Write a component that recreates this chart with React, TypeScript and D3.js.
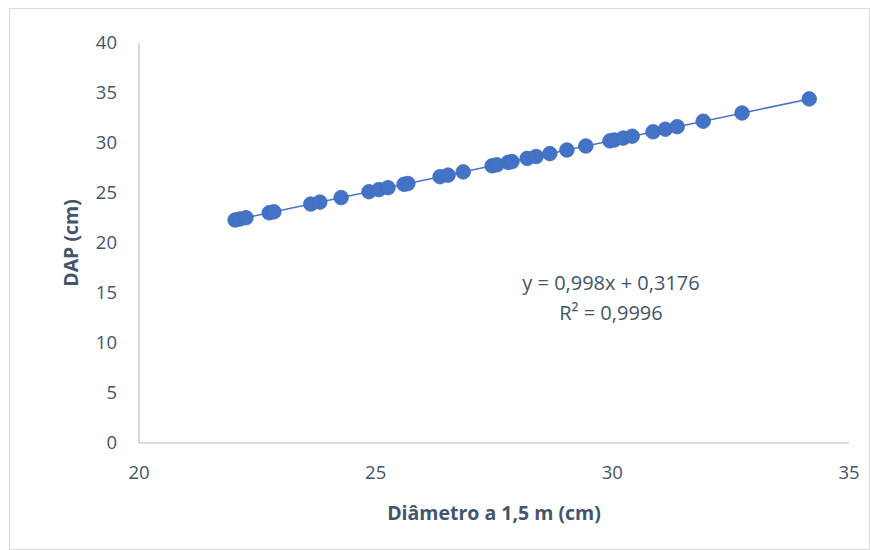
import React from 'react';
import * as d3 from 'd3';

// Diâmetro a 1,5 m (cm)
const diametro = [
  22.03, 22.13, 22.26, 22.75, 22.85, 23.63, 23.82, 24.27, 24.86, 25.07,
  25.26, 25.6, 25.68, 26.36, 26.53, 26.85, 27.46, 27.56, 27.8, 27.88,
  28.2, 28.39, 28.68, 29.04, 29.44, 29.95, 30.04, 30.23, 30.42, 30.86,
  31.12, 31.37, 31.92, 32.74, 34.16,
];
// DAP (cm)
const dap = [
  22.3, 22.4, 22.53, 23.02, 23.12, 23.9, 24.09, 24.54, 25.13, 25.34,
  25.53, 25.87, 25.95, 26.63, 26.79, 27.11, 27.72, 27.82, 28.06, 28.14,
  28.46, 28.65, 28.94, 29.3, 29.7, 30.21, 30.3, 30.49, 30.68, 31.12,
  31.38, 31.63, 32.18, 33.0, 34.41,
];
const xTicks = [20, 25, 30, 35];
const yTicks = [0, 5, 10, 15, 20, 25, 30, 35, 40];
const slope = 0.998;
const intercept = 0.3176;
const equationLines = ['y = 0,998x + 0,3176', 'R² = 0,9996'];

const W = 870;
const H = 550;
const margin = { top: 43, right: 21, bottom: 107, left: 139 };
const FONT = "'Open Sans', 'Liberation Sans', sans-serif";
const TXT = '#44546A';
const BLUE = '#4472C4';

export default function App() {
  const x = d3.scaleLinear().domain([20, 35]).range([margin.left, W - margin.right]);
  const y = d3.scaleLinear().domain([0, 40]).range([H - margin.bottom, margin.top]);
  const pts = diametro.map((d, i) => ({ x: d, y: dap[i] }));
  const [x0, x1] = d3.extent(diametro) as [number, number];
  const trend = d3.line<number>().x((d) => x(d)).y((d) => y(slope * d + intercept));

  return (
    <svg
      width={W}
      height={H}
      style={{ position: 'absolute', left: 0, top: 0, background: '#fff' }}
      fontFamily={FONT}
    >
      <rect x={9.5} y={8.5} width={W - 10} height={H - 9} fill="#fff" stroke="#d9d9d9" />

      {/* axes */}
      <line x1={x(20)} x2={x(20)} y1={y(40)} y2={y(0)} stroke="#b7bfca" strokeWidth={1.2} />
      <line x1={x(20)} x2={x(35)} y1={y(0)} y2={y(0)} stroke="#b7bfca" strokeWidth={1.2} />

      {yTicks.map((t) => (
        <text key={t} x={117} y={y(t)} dy="0.35em" textAnchor="end" fontSize={18.5} fill={TXT}>
          {t}
        </text>
      ))}
      {xTicks.map((t) => (
        <text key={t} x={x(t)} y={473} dy="0.35em" textAnchor="middle" fontSize={18.5} fill={TXT}>
          {t}
        </text>
      ))}

      <text x={494} y={513} dy="0.35em" textAnchor="middle" fontSize={19.5} fontWeight="bold" fill={TXT}>
        Diâmetro a 1,5 m (cm)
      </text>
      <text
        transform={`translate(71,243) rotate(-90)`}
        dy="0.35em"
        textAnchor="middle"
        fontSize={19.5}
        fontWeight="bold"
        fill={TXT}
      >
        DAP (cm)
      </text>

      {/* trendline */}
      <path d={trend([x0, x1]) ?? ''} fill="none" stroke={BLUE} strokeWidth={1.5} />

      {pts.map((p, i) => (
        <circle key={i} cx={x(p.x)} cy={y(p.y)} r={7.3} fill={BLUE} stroke="#3f6bbd" strokeWidth={0.8} />
      ))}

      {equationLines.map((l, i) => (
        <text key={i} x={611} y={283 + i * 30} dy="0.35em" textAnchor="middle" fontSize={20} fill={TXT}>
          {l}
        </text>
      ))}
    </svg>
  );
}
